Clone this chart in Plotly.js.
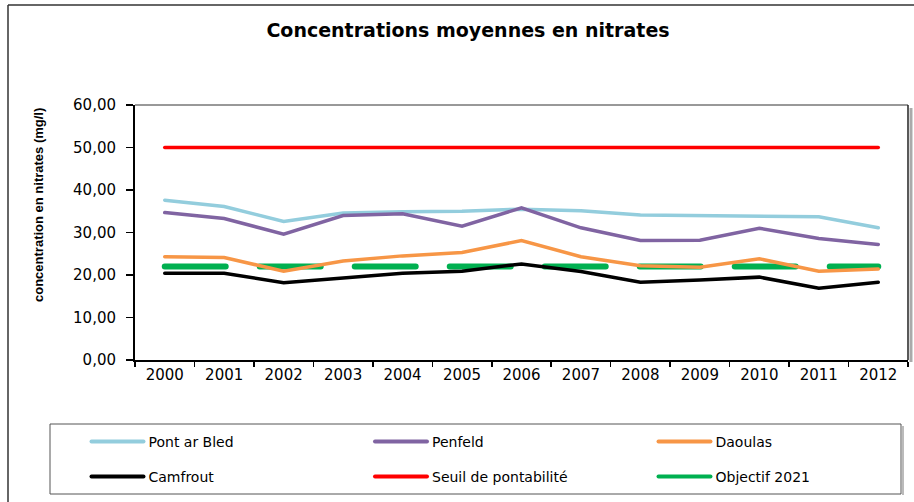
<!DOCTYPE html>
<html>
<head>
<meta charset="utf-8">
<script src="https://cdn.plot.ly/plotly-3.0.1.min.js"></script>
<style>
html,body{margin:0;padding:0;background:#fff;}
#chart .scatterlayer path.js-line{stroke-linecap:round;}
#chart g.legendlines path{stroke-width:4px !important;stroke-linecap:round;}
</style>
</head>
<body>
<div id="chart" style="width:914px;height:502px;"></div>
<script>
// ---- data ----
const years = ['2000','2001','2002','2003','2004','2005','2006','2007','2008','2009','2010','2011','2012'];
const pontArBled = [37.6, 36.1, 32.6, 34.6, 34.9, 35.0, 35.5, 35.1, 34.1, 34.0, 33.9, 33.7, 31.1];
const penfeld    = [34.7, 33.3, 29.6, 34.0, 34.4, 31.5, 35.8, 31.1, 28.1, 28.2, 31.0, 28.6, 27.2];
const daoulas    = [24.3, 24.1, 20.9, 23.3, 24.5, 25.3, 28.1, 24.3, 22.2, 21.8, 23.8, 20.9, 21.4];
const camfrout   = [20.4, 20.4, 18.2, 19.3, 20.4, 20.9, 22.6, 20.8, 18.3, 18.8, 19.5, 16.9, 18.3];
const seuil      = [50, 50, 50, 50, 50, 50, 50, 50, 50, 50, 50, 50, 50];
const objectif   = [22, 22, 22, 22, 22, 22, 22, 22, 22, 22, 22, 22, 22];
const yTickVals  = [0, 10, 20, 30, 40, 50, 60];

const names = ['Pont ar Bled', 'Penfeld', 'Daoulas', 'Camfrout', 'Seuil de pontabilité', 'Objectif 2021'];
const colors = ['#93CDDD', '#8064A2', '#F79646', '#000000', '#FF0000', '#00B050'];
const chartTitle = 'Concentrations moyennes en nitrates';
const yTitle = 'concentration en nitrates (mg/l)';

function line(y, i, width, dash, legend, rank) {
  return {
    type: 'scatter', mode: 'lines', x: years, y: y, name: names[i],
    line: {color: colors[i], width: width, dash: dash || 'solid'},
    legend: legend, legendrank: rank, hoverinfo: 'x+y+name'
  };
}

const traces = [
  line(seuil, 4, 3.5, null, 'legend2', 2),
  line(objectif, 5, 6, '61px,34px', 'legend2', 3),
  line(pontArBled, 0, 3.5, null, 'legend', 1),
  line(penfeld, 1, 3.5, null, 'legend', 2),
  line(daoulas, 2, 3.5, null, 'legend', 3),
  line(camfrout, 3, 3.5, null, 'legend2', 1)
];

const L = 135, T = 105, W = 773, H = 255; // plot area in px
const px = v => (v - L) / W;          // page x -> paper x
const py = v => (T + H - v) / H;      // page y -> paper y

const legendCommon = {
  orientation: 'h', xref: 'paper', yref: 'paper', xanchor: 'left', yanchor: 'middle',
  entrywidth: 216.5, entrywidthmode: 'pixels', itemwidth: 52,
  font: {family: 'DejaVu Sans', size: 14, color: '#000'},
  bgcolor: 'rgba(0,0,0,0)', borderwidth: 0, traceorder: 'normal'
};

const layout = {
  width: 914, height: 502,
  margin: {l: L, r: 914 - L - W, t: T, b: 502 - T - H, pad: 0, autoexpand: false},
  paper_bgcolor: '#fff', plot_bgcolor: '#fff',
  separators: ', ',
  showlegend: true,
  title: {
    text: chartTitle,
    font: {family: 'DejaVu Sans', size: 19, weight: 700, color: '#000'},
    xref: 'container', x: 468 / 914, xanchor: 'center',
    yref: 'container', y: 1 - 30 / 502, yanchor: 'middle'
  },
  xaxis: {
    type: 'category', range: [-0.5, 12.5],
    showgrid: false, zeroline: false,
    showline: true, linecolor: '#000', linewidth: 2,
    ticks: 'outside', tickson: 'boundaries', ticklen: 5, tickwidth: 1.5, tickcolor: '#000',
    tickfont: {family: 'DejaVu Sans', size: 15, color: '#000'},
    fixedrange: true
  },
  yaxis: {
    range: [0, 60], tickvals: yTickVals, tickformat: '.2f',
    showgrid: false, zeroline: false,
    showline: true, linecolor: '#000', linewidth: 2,
    ticks: 'outside', ticklen: 7, tickwidth: 1.5, tickcolor: '#000',
    ticklabelstandoff: 7,
    tickfont: {family: 'DejaVu Sans', size: 15, color: '#000'},
    fixedrange: true
  },
  annotations: [{
    text: yTitle, textangle: -90, showarrow: false,
    xref: 'paper', yref: 'paper', x: px(38), y: py(205), xanchor: 'center', yanchor: 'middle',
    font: {family: 'Liberation Sans', size: 13, weight: 700, color: '#000'}
  }],
  legend: Object.assign({}, legendCommon, {x: px(86.5), y: py(442)}),
  legend2: Object.assign({}, legendCommon, {x: px(86.5), y: py(477)}),
  shapes: [
    // plot area top and right border + shadow
    {type: 'line', xref: 'paper', yref: 'paper', x0: 0, x1: 1, y0: 1, y1: 1, line: {color: '#333', width: 1}},
    {type: 'line', xref: 'paper', yref: 'paper', x0: px(911), x1: px(911), y0: py(362), y1: py(108), line: {color: '#aaa', width: 3}},
    {type: 'line', xref: 'paper', yref: 'paper', x0: 1, x1: 1, y0: 0, y1: 1, line: {color: '#222', width: 1.5}},
    // legend frame + shadow
    {type: 'line', xref: 'paper', yref: 'paper', x0: px(903), x1: px(903), y0: py(495), y1: py(426), line: {color: '#bbb', width: 2}},
    {type: 'rect', xref: 'paper', yref: 'paper', x0: px(50), x1: px(901), y0: py(494), y1: py(424), line: {color: '#555', width: 1}},
    // outer chart frame
    {type: 'line', xref: 'paper', yref: 'paper', x0: px(8), x1: px(8), y0: py(560), y1: py(5), line: {color: '#333', width: 1.5}},
    {type: 'line', xref: 'paper', yref: 'paper', x0: px(8), x1: px(960), y0: py(5), y1: py(5), line: {color: '#333', width: 1.5}}
  ]
};

Plotly.newPlot('chart', traces, layout, {displayModeBar: false, staticPlot: true});
</script>
</body>
</html>
